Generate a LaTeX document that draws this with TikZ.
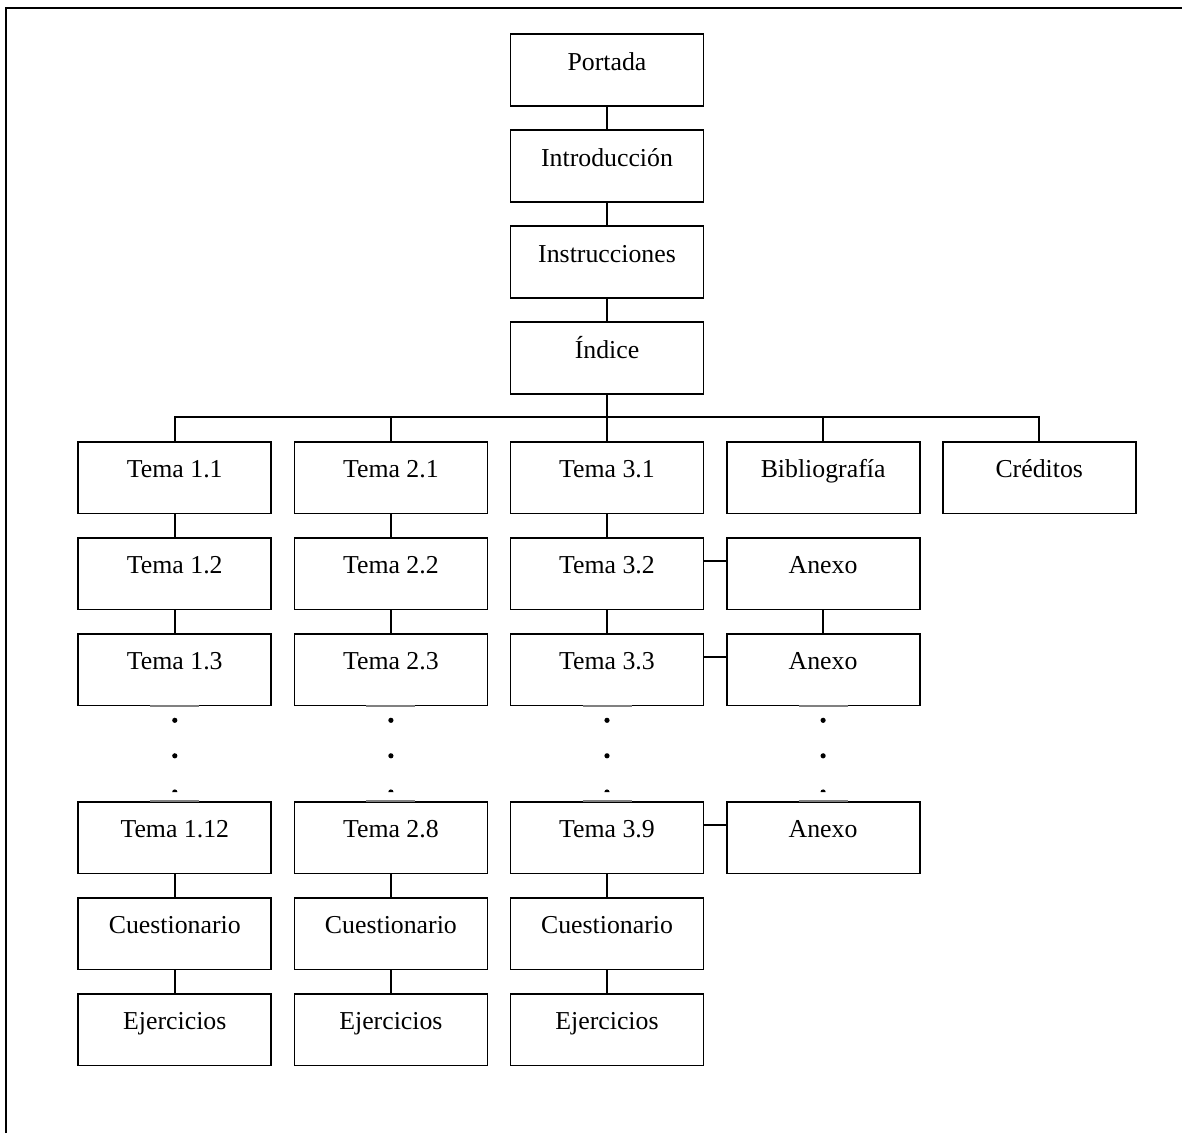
\documentclass[tikz,border=0pt]{standalone}
\usepackage{fontspec}
\setmainfont{Liberation Serif}
\begin{document}
\begin{tikzpicture}[x=1pt,y=-1pt,
  stepbox/.style={draw,line width=1.8pt,anchor=north,minimum width=193pt,
    inner xsep=0pt,inner ysep=0pt,text height=36pt,text depth=35.5pt,
    font=\fontsize{25.8}{30}\selectfont},
  link/.style={line width=1.6pt},
  gap/.style={draw=black!50,line width=1.8pt},
  frame/.style={line width=2.4pt}]
\useasboundingbox (0,0) rectangle (1182,1133);

% page frame (top and left edges)
\draw[frame] (5.7,1133) -- (5.7,7.8) -- (1182,7.8);

% main spine
\node[stepbox] (por) at (607,33.3) {Portada};
\node[stepbox] (intro) at (607,129.3) {Introducción};
\node[stepbox] (instr) at (607,225.3) {Instrucciones};
\node[stepbox] (idx) at (607,321.3) {Índice};

% column 1
\node[stepbox] (t11) at (174.8,441) {Tema 1.1};
\node[stepbox] (t12) at (174.8,537) {Tema 1.2};
\node[stepbox] (t13) at (174.8,633) {Tema 1.3};
\node[stepbox] (t1n) at (174.8,801) {Tema 1.12};
\node[stepbox] (q1) at (174.8,897) {Cuestionario};
\node[stepbox] (e1) at (174.8,993) {Ejercicios};

% column 2
\node[stepbox] (t21) at (390.9,441) {Tema 2.1};
\node[stepbox] (t22) at (390.9,537) {Tema 2.2};
\node[stepbox] (t23) at (390.9,633) {Tema 2.3};
\node[stepbox] (t2n) at (390.9,801) {Tema 2.8};
\node[stepbox] (q2) at (390.9,897) {Cuestionario};
\node[stepbox] (e2) at (390.9,993) {Ejercicios};

% column 3
\node[stepbox] (t31) at (607,441) {Tema 3.1};
\node[stepbox] (t32) at (607,537) {Tema 3.2};
\node[stepbox] (t33) at (607,633) {Tema 3.3};
\node[stepbox] (t3n) at (607,801) {Tema 3.9};
\node[stepbox] (q3) at (607,897) {Cuestionario};
\node[stepbox] (e3) at (607,993) {Ejercicios};

% column 4
\node[stepbox] (bib) at (823.1,441) {Bibliografía};
\node[stepbox] (ax1) at (823.1,537) {Anexo};
\node[stepbox] (ax2) at (823.1,633) {Anexo};
\node[stepbox] (ax3) at (823.1,801) {Anexo};

% column 5
\node[stepbox] (cred) at (1039.2,441) {Créditos};

% spine connectors
\draw[link] (por.south) -- (intro.north);
\draw[link] (intro.south) -- (instr.north);
\draw[link] (instr.south) -- (idx.north);

% branching bus
\coordinate (bus) at (607,417);
\draw[link] (idx.south) -- (bus);
\draw[link] (t11.north) -- (t11.north |- bus) -- (cred.north |- bus) -- (cred.north);
\foreach \n in {t21,t31,bib}
  \draw[link] (\n.north) -- (\n.north |- bus);

% column chains
\foreach \a/\b in {t11/t12,t12/t13,t1n/q1,q1/e1,
                   t21/t22,t22/t23,t2n/q2,q2/e2,
                   t31/t32,t32/t33,t3n/q3,q3/e3,
                   ax1/ax2}
  \draw[link] (\a.south) -- (\b.north);

% side links to annexes
\foreach \a/\b in {t32/ax1,t33/ax2,t3n/ax3}
  \draw[link] ([yshift=-24pt]\a.north east) -- ([yshift=-24pt]\b.north west);

% ellipsis dots between the box pairs
\foreach \u/\v in {t13/t1n,t23/t2n,t33/t3n,ax2/ax3}{
  \draw[gap] ([xshift=-24.5pt]\u.south) -- ([xshift=24.5pt]\u.south);
  \draw[gap] ([xshift=-24.5pt]\v.north) -- ([xshift=24.5pt]\v.north);
  \fill ([yshift=-14pt]\u.south) circle[radius=2.6pt];
  \fill ([yshift=-49.5pt]\u.south) circle[radius=2.6pt];
  \fill ([yshift=9pt,xshift=-2.6pt]\v.north) arc[start angle=180,end angle=0,radius=2.6pt] -- cycle;
}
\end{tikzpicture}
\end{document}
